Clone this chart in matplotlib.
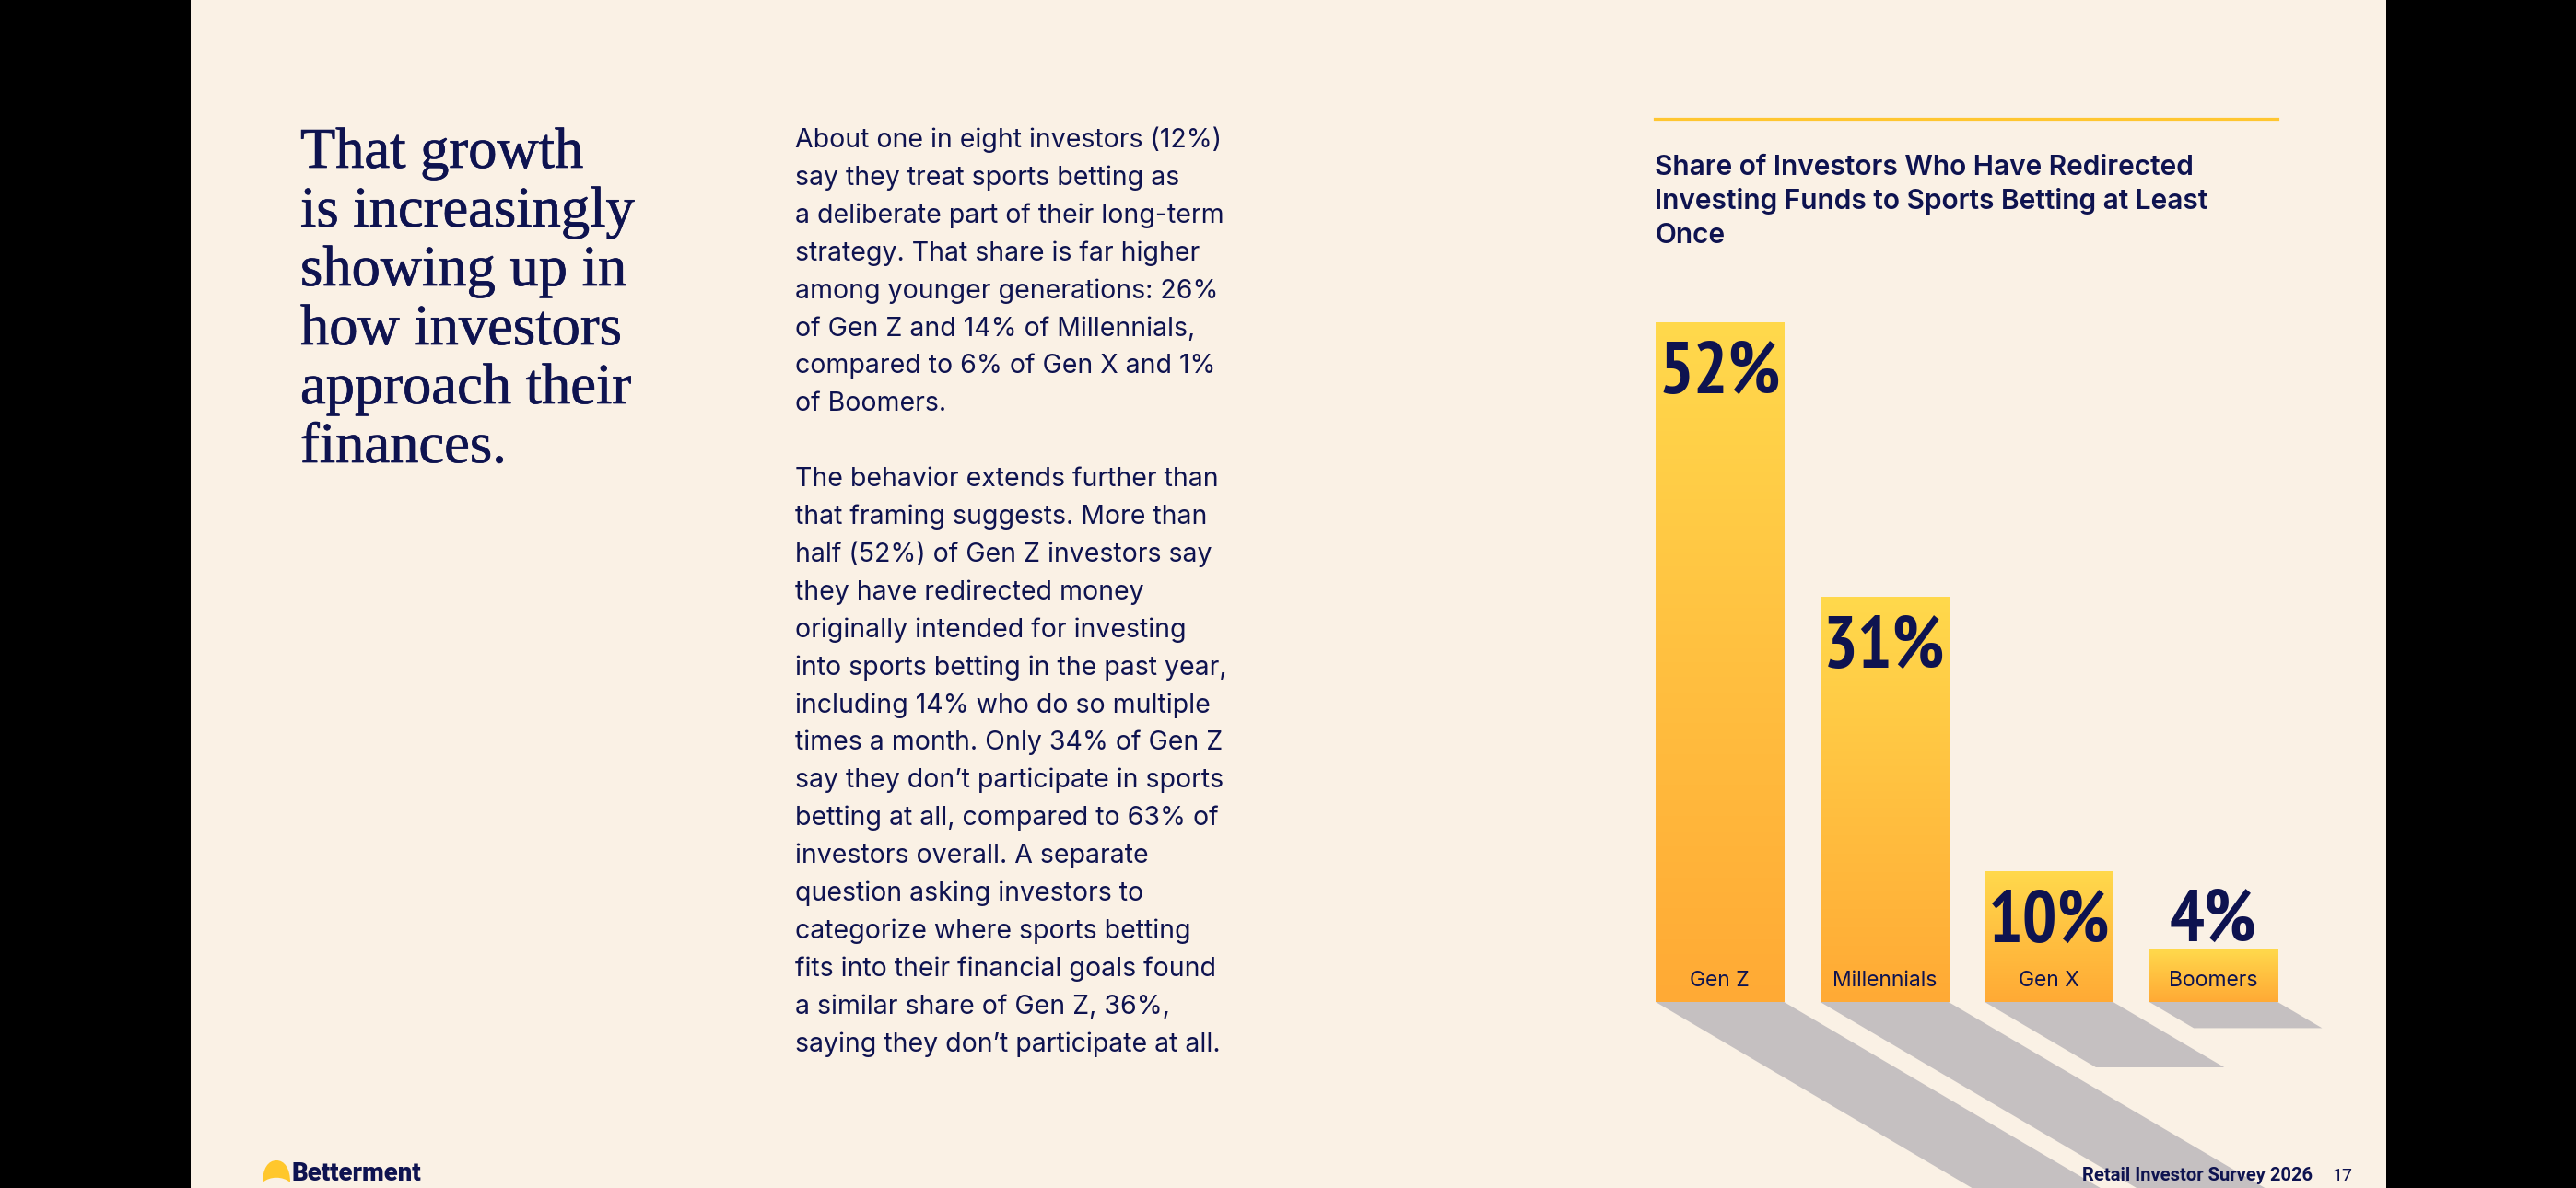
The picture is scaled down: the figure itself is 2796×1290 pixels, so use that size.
import matplotlib
matplotlib.use("Agg")
import matplotlib.pyplot as plt
import numpy as np
from matplotlib.patches import Polygon, Rectangle, PathPatch
from matplotlib.path import Path
from matplotlib.lines import Line2D
import matplotlib.transforms as mtransforms
import matplotlib.patheffects as pe
from matplotlib.colors import LinearSegmentedColormap
from matplotlib import font_manager as fm

# ---------------- data ----------------
categories = ["Gen Z", "Millennials", "Gen X", "Boomers"]
values = [52, 31, 10, 4]
value_labels = ["52%", "31%", "10%", "4%"]

chart_title = ["Share of Investors Who Have Redirected",
               "Investing Funds to Sports Betting at Least",
               "Once"]
headline = ["That growth", "is increasingly", "showing up in",
            "how investors", "approach their", "finances."]
para1 = ["About one in eight investors (12%)",
         "say they treat sports betting as",
         "a deliberate part of their long-term",
         "strategy. That share is far higher",
         "among younger generations: 26%",
         "of Gen Z and 14% of Millennials,",
         "compared to 6% of Gen X and 1%",
         "of Boomers."]
para2 = ["The behavior extends further than",
         "that framing suggests. More than",
         "half (52%) of Gen Z investors say",
         "they have redirected money",
         "originally intended for investing",
         "into sports betting in the past year,",
         "including 14% who do so multiple",
         "times a month. Only 34% of Gen Z",
         "say they don\u2019t participate in sports",
         "betting at all, compared to 63% of",
         "investors overall. A separate",
         "question asking investors to",
         "categorize where sports betting",
         "fits into their financial goals found",
         "a similar share of Gen Z, 36%,",
         "saying they don\u2019t participate at all."]
footer_title = "Retail Investor Survey 2026"
page_number = "17"
brand = "Betterment"

# ---------------- style ----------------
W, H = 2796, 1290
BG = "#FAF1E5"
NAVY = "#0E1350"
YELLOW_TOP = "#FFD94C"
ORANGE_BOT = "#FFAA35"
SHADOW = "#C5C0C1"
RULE = "#FFC630"

# pick a condensed bold font for the big numbers if one is installed
cond_path = None
for f in fm.fontManager.ttflist:
    nm = (f.name + " " + f.fname).lower()
    if ("narrow" in nm or "condensed" in nm) and f.weight in (700, "bold"):
        cond_path = f.fname
        if "narrow" in nm:
            break
if cond_path:
    num_font = dict(fontproperties=fm.FontProperties(fname=cond_path, size=57))
else:
    num_font = dict(family=["DejaVu Sans"], fontstretch="condensed",
                    fontweight="bold", fontsize=52)

fig = plt.figure(figsize=(W / 100, H / 100), dpi=100, facecolor=BG)
ax = fig.add_axes([0, 0, 1, 1])
ax.set_facecolor(BG)
ax.axis("off")

# chart geometry (pixels)
X0PX, PITCH, BASE, PXV = 1866.7, 178.6, 1088.0, 14.2
BAR_W = 0.78

pix = mtransforms.Affine2D().scale(1 / W, -1 / H).translate(0, 1) + fig.transFigure


def txt(x, y, s, **kw):
    fig.text(x, y, s, transform=pix, **kw)


BODY = ["Inter", "Roboto", "DejaVu Sans"]

# ---------------- bars ----------------
x = np.arange(len(categories))
bars = ax.bar(x, values, width=BAR_W, color=ORANGE_BOT, edgecolor="none", zorder=3)
cmap = LinearSegmentedColormap.from_list("yo", [ORANGE_BOT, "#FFC040", YELLOW_TOP])
grad = np.linspace(0, 1, 256).reshape(-1, 1)
for i, (b, v) in enumerate(zip(bars, values)):
    x0 = b.get_x()
    x1 = x0 + b.get_width()
    im = ax.imshow(grad, cmap=cmap, origin="lower", aspect="auto",
                   extent=[x0, x1, 0, v], zorder=4, interpolation="bicubic")
    im.set_clip_path(b)
    # shadow parallelogram
    dy = v / 2.0
    dx = 1.7 * dy * PXV / PITCH
    poly = Polygon([[x0, 0], [x1, 0], [x1 + dx, -dy], [x0 + dx, -dy]],
                   closed=True, facecolor=SHADOW, edgecolor="none", zorder=2)
    ax.add_patch(poly)
    # value label
    if v >= 8:
        yl = v - 77 / PXV
    else:
        yl = v + 9 / PXV
    ax.text(i, yl, value_labels[i], ha="center", va="baseline",
            color=NAVY, zorder=6, **num_font)
    ax.text(i, 17 / PXV, categories[i], ha="center", va="baseline",
            fontsize=16.5, color=NAVY, zorder=6, family=BODY)

ax.set_xlim(-X0PX / PITCH, (W - X0PX) / PITCH)
ax.set_ylim(-(H - BASE) / PXV, BASE / PXV)

# ---------------- texts ----------------
for k, line in enumerate(headline):
    txt(326, 182 + 64 * k, line, fontsize=45, color=NAVY, va="baseline",
        family=["Liberation Serif", "DejaVu Serif"],
        path_effects=[pe.withStroke(linewidth=0.5, foreground=NAVY)])

LS = 40.9
for k, line in enumerate(para1):
    txt(863, 160 + LS * k, line, fontsize=20.5, color=NAVY, va="baseline",
        family=BODY)
for k, line in enumerate(para2):
    txt(863, 160 + LS * (k + len(para1) + 1), line, fontsize=20.5, color=NAVY,
        va="baseline", family=BODY)

fig.add_artist(Line2D([1796, 2472], [129, 129], transform=pix, color=RULE, lw=2.3))
for k, line in enumerate(chart_title):
    txt(1796, 190 + 37 * k, line, fontsize=21.5, color=NAVY, va="baseline",
        fontweight="semibold", family=BODY)

txt(2260, 1282, footer_title, fontsize=14.5, fontweight="bold", color=NAVY,
    va="baseline", family=["Roboto", "DejaVu Sans"])
txt(2531, 1282, page_number, fontsize=14, color=NAVY, va="baseline",
    family=["Roboto", "DejaVu Sans"])

# logo
verts = [(285, 1284), (285, 1269), (291, 1260), (300, 1260),
         (309, 1260), (315, 1269), (315, 1284),
         (307, 1277), (293, 1277), (285, 1284)]
codes = [Path.MOVETO, Path.CURVE4, Path.CURVE4, Path.CURVE4,
         Path.CURVE4, Path.CURVE4, Path.CURVE4,
         Path.CURVE4, Path.CURVE4, Path.CURVE4]
fig.add_artist(PathPatch(Path(verts, codes), transform=pix, facecolor="#FFC72C",
                         edgecolor="none"))
txt(317, 1282, brand, fontsize=19.8, fontweight="heavy", color=NAVY, va="baseline",
    family=["Roboto", "DejaVu Sans"])

# black side bands
fig.add_artist(Rectangle((0, 0), 207, H, transform=pix, facecolor="black",
                         edgecolor="none", zorder=10))
fig.add_artist(Rectangle((2590, 0), W - 2590, H, transform=pix, facecolor="black",
                         edgecolor="none", zorder=10))

fig.savefig("out.png", dpi=100, facecolor=BG)
